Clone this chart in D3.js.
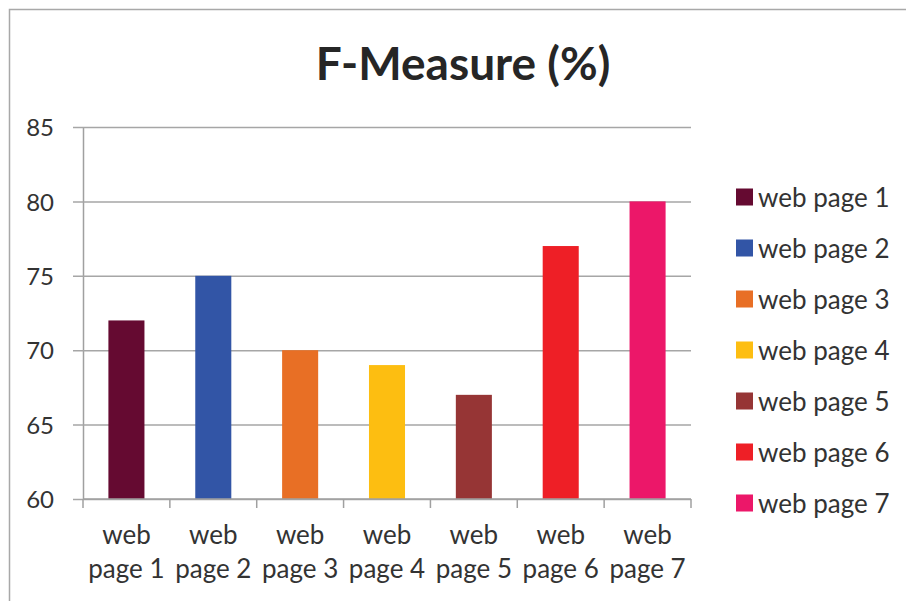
<!DOCTYPE html>
<html>
<head>
<meta charset="utf-8">
<script src="https://cdn.jsdelivr.net/npm/d3@7"></script>
<style>
  html, body { margin: 0; padding: 0; background: #fff; }
  svg { display: block; }
  text { font-family: Lato, "Open Sans", sans-serif; }
</style>
</head>
<body>
<svg id="chart" width="906" height="601"></svg>
<script>
// F-measure per web page
const categories = ["web page 1", "web page 2", "web page 3", "web page 4", "web page 5", "web page 6", "web page 7"];
const values = [72, 75, 70, 69, 67, 77, 80];
const colors = ["#650a31", "#3255a6", "#e86f25", "#fdbe11", "#963535", "#ee1f26", "#ec1769"];
const yTicks = [60, 65, 70, 75, 80, 85];
const title = "F-Measure (%)";

const svg = d3.select("#chart");
const W = 906, H = 601;

// outer chart frame
svg.append("rect")
  .attr("x", 9.5).attr("y", 9.5)
  .attr("width", W + 20).attr("height", H + 20)
  .attr("fill", "none").attr("stroke", "#a8a8a8").attr("stroke-width", 1.5);

const plot = { left: 83, right: 691, top: 127, bottom: 499 };

const x = d3.scaleBand()
  .domain(categories)
  .range([plot.left, plot.right])
  .paddingInner(0.585)
  .paddingOuter(0.2925);

const y = d3.scaleLinear()
  .domain([60, 85])
  .range([plot.bottom, plot.top]);

// title
svg.append("text")
  .attr("x", 463).attr("y", 80)
  .attr("text-anchor", "middle")
  .attr("font-size", 46).attr("font-weight", 700)
  .attr("fill", "#262626")
  .text(title);

// horizontal gridlines + y axis
const yAxis = d3.axisLeft(y)
  .tickValues(yTicks)
  .tickSize(-(plot.right - plot.left))
  .tickSizeOuter(0)
  .tickPadding(0);

const gy = svg.append("g")
  .attr("transform", `translate(${plot.left},0)`)
  .call(yAxis);
gy.select(".domain").attr("stroke", "#a0a0a0").attr("stroke-width", 1.5);
gy.selectAll(".tick line")
  .attr("stroke", "#a6a6a6").attr("stroke-width", 1.5)
  .attr("x1", -10);
gy.selectAll(".tick text")
  .attr("x", -29)
  .attr("dy", "0.36em")
  .attr("font-size", 24)
  .attr("font-family", "Lato, sans-serif")
  .attr("fill", "#333");

// bars
svg.append("g").selectAll("rect")
  .data(categories)
  .join("rect")
  .attr("x", d => x(d))
  .attr("width", x.bandwidth())
  .attr("y", (d, i) => y(values[i]))
  .attr("height", (d, i) => y(60) - y(values[i]))
  .attr("fill", (d, i) => colors[i]);

// x axis line with category boundary ticks
const gx = svg.append("g");
gx.append("line")
  .attr("x1", plot.left).attr("x2", plot.right)
  .attr("y1", plot.bottom).attr("y2", plot.bottom)
  .attr("stroke", "#a0a0a0").attr("stroke-width", 1.5);
gx.selectAll("line.tick")
  .data(d3.range(categories.length + 1))
  .join("line")
  .attr("class", "tick")
  .attr("x1", i => plot.left + i * (plot.right - plot.left) / categories.length)
  .attr("x2", i => plot.left + i * (plot.right - plot.left) / categories.length)
  .attr("y1", plot.bottom).attr("y2", plot.bottom + 9)
  .attr("stroke", "#a0a0a0").attr("stroke-width", 1.5);

// two-line category labels
const xl = gx.selectAll("text.cat")
  .data(categories)
  .join("text")
  .attr("class", "cat")
  .attr("text-anchor", "middle")
  .attr("font-size", 26)
  .attr("fill", "#333");
xl.append("tspan")
  .attr("x", d => x(d) + x.bandwidth() / 2)
  .attr("y", 544)
  .text(d => d.split(" ")[0]);
xl.append("tspan")
  .attr("x", d => x(d) + x.bandwidth() / 2)
  .attr("y", 578)
  .text(d => d.split(" ").slice(1).join(" "));

// legend
const legend = svg.append("g").attr("transform", "translate(736,0)");
const rows = legend.selectAll("g")
  .data(categories)
  .join("g")
  .attr("transform", (d, i) => `translate(0,${197 + i * 51})`);
rows.append("rect")
  .attr("x", 0).attr("y", -8.5)
  .attr("width", 17).attr("height", 17)
  .attr("fill", (d, i) => colors[i]);
rows.append("text")
  .attr("x", 22).attr("y", 9.5)
  .attr("font-size", 26)
  .attr("fill", "#333")
  .text(d => d);
</script>
</body>
</html>
